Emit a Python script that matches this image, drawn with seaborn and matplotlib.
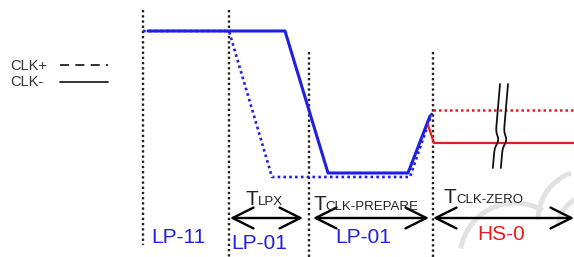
import numpy as np
import pandas as pd
import matplotlib
matplotlib.use("Agg")
import matplotlib.pyplot as plt
from matplotlib.patches import Arc
import seaborn as sns

sns.set_style("white")
plt.rcParams['font.family'] = ['Liberation Sans', 'DejaVu Sans']

# ---- data (timing diagram, x = time, y = level in drawing units) ----
clkp_t = [143, 229, 272, 410, 433]          # CLK+ (dotted, LP states)
clkp_v = [31, 31, 177, 177, 110]
clkm_t = [148, 285, 328, 408, 430]          # CLK- (solid, LP states)
clkm_v = [31, 31, 173, 173, 116]
hsp_t = [433, 574]                          # CLK+ in HS
hsp_v = [110, 110]
hsm_t = [428, 434, 574]                     # CLK- in HS
hsm_v = [125, 143, 143]

marker_x = [143, 229, 309, 433]
marker_top = [10, 10, 52, 52]
marker_bot = [245, 257, 257, 257]

interval_start = [230, 313, 433]
interval_end = [303, 429, 574]
interval_names = ["LPX", "CLK-PREPARE", "CLK-ZERO"]

state_labels = ["LP-11", "LP-01", "LP-01", "HS-0"]

BLUE = "#1f1fe6"
RED = "#e81c1c"

fig = plt.figure(figsize=(5.74, 2.57), dpi=100)
ax = fig.add_axes([0, 0, 1, 1])
ax.set_xlim(0, 574)
ax.set_ylim(257, 0)
ax.axis("off")

# watermark (faint)
wm = "#e2e2e2"
ax.add_patch(Arc((515, 258), 110, 110, theta1=190, theta2=300, color=wm, lw=3.5))
ax.add_patch(Arc((588, 220), 100, 100, theta1=180, theta2=250, color=wm, lw=3.5))
ax.add_patch(Arc((590, 228), 64, 64, theta1=185, theta2=245, color=wm, lw=3.5))

# vertical dotted markers
for x, t, b in zip(marker_x, marker_top, marker_bot):
    sns.lineplot(x=[x, x], y=[t, b], ax=ax, color="#222222", lw=1.7,
                 linestyle=(0, (1, 1.2)), sort=False, estimator=None)

# signals
sns.lineplot(x=clkp_t, y=clkp_v, ax=ax, color=BLUE, lw=1.9,
             linestyle=(0, (1, 1.2)), sort=False, estimator=None)
sns.lineplot(x=clkm_t, y=clkm_v, ax=ax, color=BLUE, lw=2.2,
             sort=False, estimator=None)
sns.lineplot(x=hsp_t, y=hsp_v, ax=ax, color=RED, lw=1.8,
             linestyle=(0, (1, 1.2)), sort=False, estimator=None)
sns.lineplot(x=hsm_t, y=hsm_v, ax=ax, color=RED, lw=1.6,
             sort=False, estimator=None)

# break marks
for dx in (0, 8):
    yy = np.linspace(84, 168, 40)
    xx = 500 + dx - (yy - 84) * 0.085 + 3.0 * np.exp(-((yy - 140) / 6) ** 2)
    ax.plot(xx, yy, color="#111111", lw=1.3, zorder=6)

# interval arrows
for s, e in zip(interval_start, interval_end):
    ax.annotate("", xy=(e, 218), xytext=(s, 218),
                arrowprops=dict(arrowstyle="<->,head_length=1.5,head_width=0.75",
                                lw=1.7, color="black", shrinkA=0, shrinkB=0,
                                mutation_scale=10))

# interval names (T + small subscript-like text)
tx = [245, 313, 444]
sx = [258, 325, 456]
by = [205, 210, 203]
for t0, s0, b, name in zip(tx, sx, by, interval_names):
    ax.text(t0, b, "T", fontsize=15, color="#222222", va="baseline", ha="left")
    ax.text(s0, b, name, fontsize=9.5, color="#222222", va="baseline", ha="left")

# state labels
lx = [151, 231, 335, 477]
ly = [243, 249, 243, 240]
lc = [BLUE, BLUE, BLUE, RED]
for x, y, s, c in zip(lx, ly, state_labels, lc):
    ax.text(x, y, s, fontsize=15, color=c, va="baseline", ha="left")

# legend
ax.text(10, 70, "CLK+", fontsize=10.5, color="#333333", va="baseline")
ax.text(10, 86, "CLK-", fontsize=10.5, color="#333333", va="baseline")
ax.plot([60, 108], [65, 65], color="#222222", lw=1.3, linestyle=(0, (5, 3.5)))
ax.plot([60, 108], [82, 82], color="#222222", lw=1.3)

fig.savefig("out.png", dpi=100)
